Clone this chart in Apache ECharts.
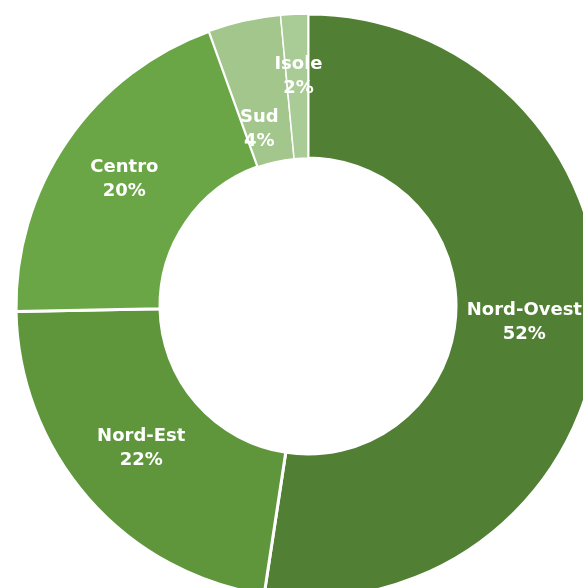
<!DOCTYPE html>
<html>
<head>
<meta charset="utf-8">
<script src="https://cdn.jsdelivr.net/npm/echarts@6/dist/echarts.min.js"></script>
<style>
  html, body { margin: 0; padding: 0; background: #fff; }
  #chart { width: 583px; height: 588px; }
</style>
</head>
<body>
<div id="chart"></div>
<script>
const areas = ['Nord-Ovest', 'Nord-Est', 'Centro', 'Sud', 'Isole']
const shares = [52.4, 22.3, 19.8, 4.0, 1.5]
const colors = ['#517f33', '#5f963c', '#6aa645', '#a3c68d', '#a9cb95']
// label nudges, as in the original
const labelShift = {
  'Nord-Ovest': [-6, 0],
  'Nord-Est': [1, -5],
  Sud: [0, 41],
  Isole: [1, -7]
}

const chart = echarts.init(document.getElementById('chart'))
const option = {
  animation: false,
  series: [
    {
      type: 'pie',
      center: [308, 306],
      radius: [148, 292],
      startAngle: 90,
      clockwise: true,
      avoidLabelOverlap: false,
      itemStyle: {
        borderColor: '#fff',
        borderWidth: 3
      },
      label: {
        show: true,
        position: 'inside',
        color: '#fff',
        fontFamily: 'DejaVu Sans',
        fontWeight: 'bold',
        fontSize: 18,
        lineHeight: 24,
        formatter: function(p) {
          return p.name + '\n' + Math.round(p.percent) + '%'
        }
      },
      labelLine: { show: false },
      labelLayout: function(params) {
        const s = labelShift[areas[params.dataIndex]]
        if (!s) return {}
        return { dx: s[0], dy: s[1] }
      },
      emphasis: { disabled: true },
      data: areas.map((name, i) => {
        return {
          name: name,
          value: shares[i],
          itemStyle: {
            color: colors[i],
            borderWidth: i >= 3 ? 1.5 : 3
          }
        }
      })
    }
  ]
}
chart.setOption(option)
</script>
</body>
</html>
